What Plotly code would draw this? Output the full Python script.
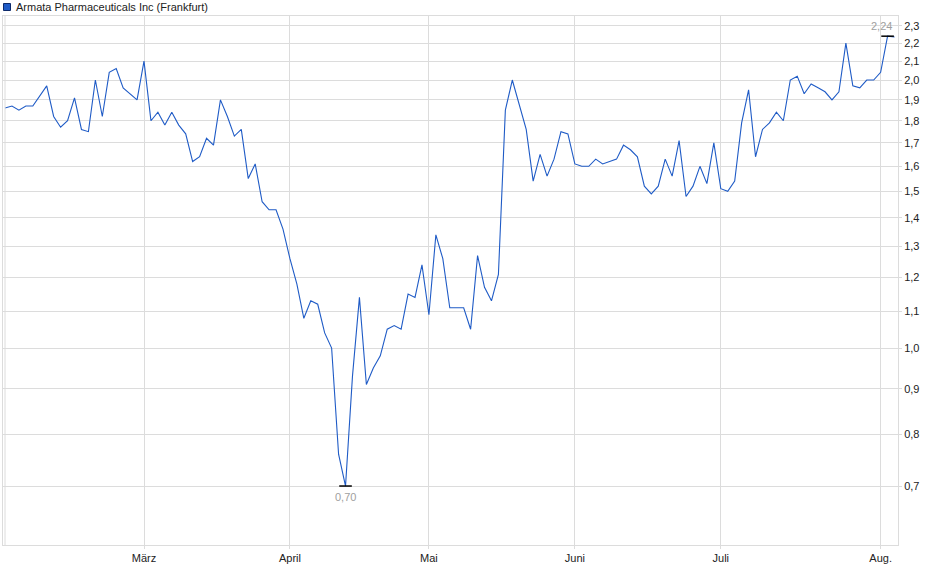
import numpy as np
import pandas as pd
import plotly.graph_objects as go

series_name = "Armata Pharmaceuticals Inc (Frankfurt)"
holidays = ["2025-04-18", "2025-04-21", "2025-05-01"]
dates = [d.strftime("%Y-%m-%d") for d in pd.bdate_range("2025-02-03", "2025-08-05")
         if d.strftime("%Y-%m-%d") not in holidays]

prices = [
    # Feb
    1.86, 1.87, 1.85, 1.87, 1.87, 1.92, 1.97, 1.82, 1.77, 1.80,
    1.91, 1.76, 1.75, 2.00, 1.82, 2.04, 2.06, 1.96, 1.93, 1.90,
    # Mar
    2.10, 1.80, 1.84, 1.78, 1.84, 1.78, 1.74, 1.62, 1.64, 1.72,
    1.69, 1.90, 1.82, 1.73, 1.76, 1.55, 1.61, 1.46, 1.43, 1.43, 1.36,
    # Apr
    1.26, 1.18, 1.08, 1.13, 1.12, 1.04, 1.00, 0.76, 0.70, 0.93,
    1.14, 0.91, 0.95, 0.98, 1.05, 1.06, 1.05, 1.15, 1.14, 1.24,
    # May
    1.09, 1.34, 1.26, 1.11, 1.11, 1.11, 1.05, 1.27, 1.17, 1.13,
    1.21, 1.85, 2.00, 1.88, 1.76, 1.54, 1.65, 1.56, 1.63, 1.75, 1.74,
    # Jun
    1.61, 1.60, 1.60, 1.63, 1.61, 1.62, 1.63, 1.69, 1.67, 1.64,
    1.52, 1.49, 1.52, 1.63, 1.56, 1.71, 1.48, 1.52, 1.60, 1.53, 1.70,
    # Jul
    1.51, 1.50, 1.54, 1.79, 1.95, 1.64, 1.76, 1.79, 1.84, 1.80,
    2.00, 2.02, 1.93, 1.98, 1.96, 1.94, 1.90, 1.94, 2.20, 1.97,
    1.96, 2.00, 2.00,
    # Aug
    2.04, 2.24, 2.235,
]
assert len(dates) == len(prices), (len(dates), len(prices))

month_ticks = ["2025-03-03", "2025-04-01", "2025-05-02", "2025-06-02", "2025-07-01", "2025-08-01"]
month_labels = ["März", "April", "Mai", "Juni", "Juli", "Aug."]
y_ticks = [0.7, 0.8, 0.9, 1.0, 1.1, 1.2, 1.3, 1.4, 1.5, 1.6, 1.7, 1.8, 1.9, 2.0, 2.1, 2.2, 2.3]

line_color = "#1f5bc6"
grid_color = "#dcdcdc"
font_family = "Liberation Sans, Arial, sans-serif"

# plot-area geometry in pixels (for legend placement in paper coords)
L, R, T, B = 3, 898, 16, 545
PW, PH = R - L, B - T


def px(xp):
    return (xp - L) / PW


def py(yp):
    return (B - yp) / PH


i_min = int(np.argmin(prices))
i_max = int(np.argmax(prices))

fig = go.Figure()
fig.add_trace(go.Scatter(x=dates, y=prices, mode="lines",
                         line=dict(color=line_color, width=1.1),
                         hoverinfo="x+y", showlegend=False))
fig.add_trace(go.Scatter(x=[dates[i_min], dates[i_max]],
                         y=[prices[i_min], prices[i_max]],
                         mode="markers",
                         marker=dict(symbol="line-ew-open", size=9, color="black",
                                     line=dict(color="black", width=1.5)),
                         showlegend=False, hoverinfo="skip"))

fig.add_annotation(x=dates[i_min], y=np.log10(prices[i_min]), text=f"{prices[i_min]:.2f}".replace(".", ","),
                   showarrow=False, yanchor="top", yshift=-3,
                   font=dict(color="#a0a0a0", size=11, family=font_family))
fig.add_annotation(x=dates[i_max], y=np.log10(prices[i_max]), text=f"{prices[i_max]:.2f}".replace(".", ","),
                   showarrow=False, yanchor="bottom", xanchor="center", xshift=-6, yshift=2,
                   font=dict(color="#a0a0a0", size=11, family=font_family))

# legend (square + label)
fig.add_shape(type="rect", xref="paper", yref="paper",
              x0=px(3.5), x1=px(10.5), y0=py(10.5), y1=py(3.5),
              fillcolor=line_color, line=dict(color="#0d2a6b", width=1))
fig.add_annotation(xref="paper", yref="paper", x=px(14), y=py(7),
                   text=series_name, showarrow=False, xanchor="left", yanchor="middle",
                   font=dict(color="#222222", size=11, family=font_family))

# extra left edge line at first data point
fig.add_shape(type="line", xref="x", yref="paper", x0=0, x1=0, y0=0, y1=1,
              line=dict(color=grid_color, width=1))

fig.update_layout(
    width=940, height=579,
    margin=dict(l=L, r=940 - R, t=T, b=579 - B, autoexpand=False),
    paper_bgcolor="white", plot_bgcolor="white",
    separators=",.",
    font=dict(family=font_family, size=11, color="#222222"),
    showlegend=False,
)
fig.update_xaxes(type="category", range=[-0.29, 128.5],
                 tickvals=month_ticks, ticktext=month_labels,
                 showgrid=True, gridcolor=grid_color, gridwidth=1,
                 showline=True, linecolor=grid_color, mirror=True,
                 ticks="outside", ticklen=3, tickcolor=grid_color,
                 tickfont=dict(size=11, color="#222222"))
fig.update_yaxes(type="log", side="right",
                 range=[np.log10(0.601), np.log10(2.36)],
                 tickvals=y_ticks, tickformat=".1f",
                 showgrid=True, gridcolor=grid_color, gridwidth=1,
                 showline=True, linecolor=grid_color, mirror=True,
                 ticks="outside", ticklen=3, tickcolor=grid_color,
                 tickfont=dict(size=11, color="#222222"), zeroline=False)

fig.write_html("out.html", config={"displayModeBar": False},
               post_script="document.body.style.margin='0';")
